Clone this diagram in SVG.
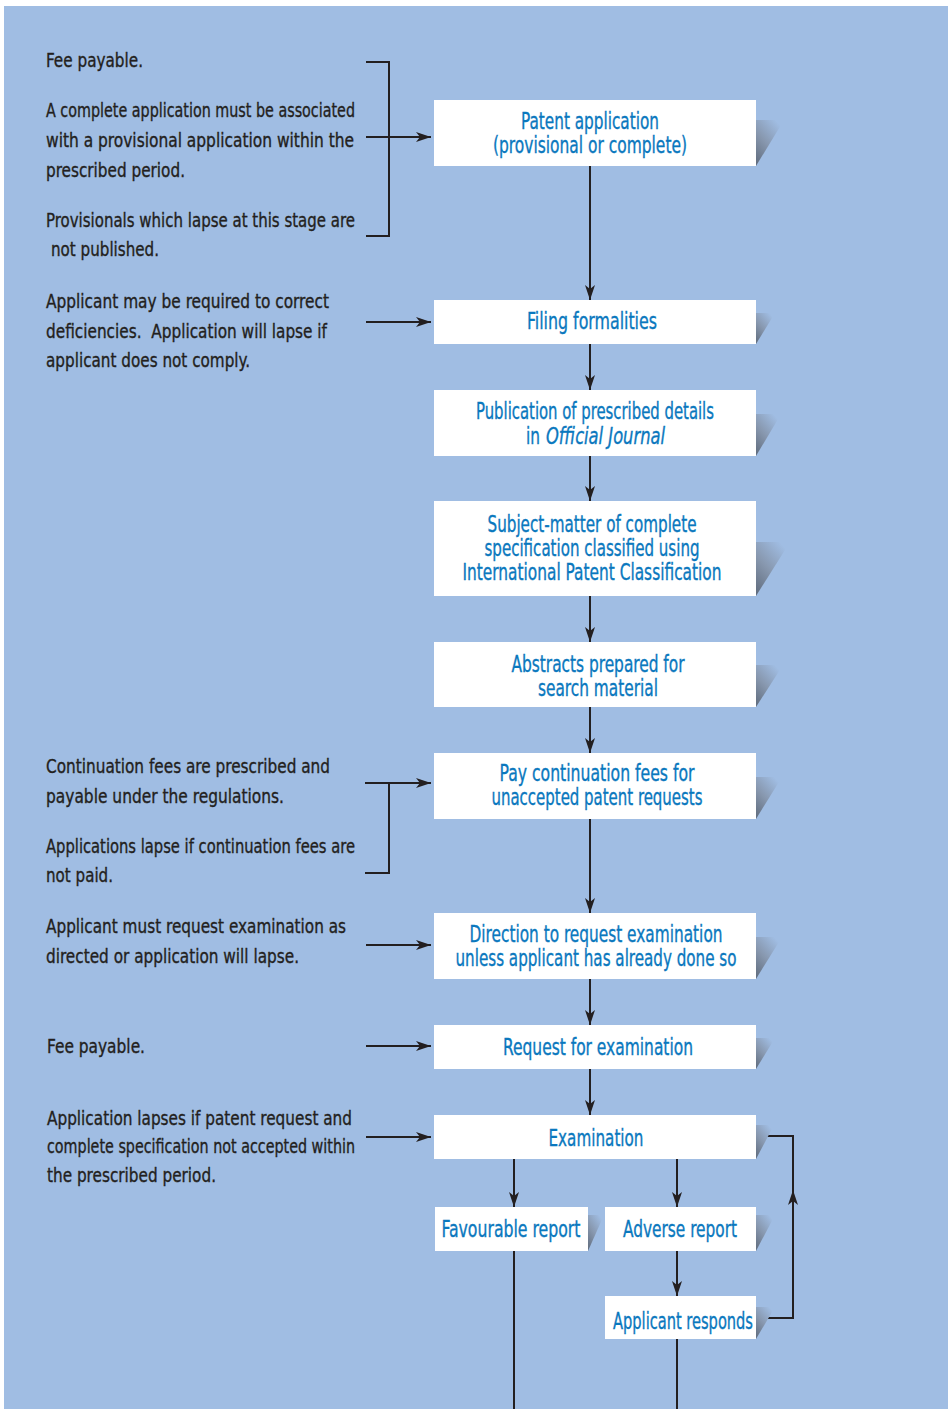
<svg xmlns="http://www.w3.org/2000/svg" width="948" height="1409" viewBox="0 0 948 1409">
<defs>
<style>
.lt{font-family:"Liberation Sans Narrow","DejaVu Sans Condensed","Liberation Sans",sans-serif;font-size:20px;fill:#231F20;stroke:#231F20;stroke-width:0.35}
.bt{font-family:"Liberation Sans Narrow","DejaVu Sans Condensed","Liberation Sans",sans-serif;font-size:23px;fill:#0A78BE;stroke:#0A78BE;stroke-width:0.35;text-anchor:middle}
.bs{text-anchor:start}
.box{fill:#FFFFFF}
.sh{fill:url(#shg)}
.ln{fill:none;stroke:#231F20;stroke-width:2}
.ar{marker-end:url(#ah)}
</style>
<linearGradient id="shg" x1="0" y1="1" x2="0.7" y2="0">
<stop offset="0" stop-color="#5E6A7B"/>
<stop offset="0.5" stop-color="#8797AE"/>
<stop offset="1" stop-color="#A0BDE3"/>
</linearGradient>
<marker id="ah" markerUnits="userSpaceOnUse" markerWidth="15" markerHeight="10" viewBox="0 0 15 10" refX="15" refY="5" orient="auto">
<path d="M0,0 L15,5 L0,10 L4,5 z" fill="#231F20"/>
</marker>
</defs>
<rect x="0" y="0" width="948" height="1409" fill="#FFFFFF"/>
<rect x="4" y="6" width="944" height="1403" fill="#A0BDE3"/>

<g id="notes">
<text class="lt" x="46" y="67" textLength="97" lengthAdjust="spacingAndGlyphs">Fee payable.</text>
<text class="lt" x="46" y="117" textLength="309" lengthAdjust="spacingAndGlyphs">A complete application must be associated</text>
<text class="lt" x="46" y="147" textLength="308" lengthAdjust="spacingAndGlyphs">with a provisional application within the</text>
<text class="lt" x="46" y="177" textLength="139" lengthAdjust="spacingAndGlyphs">prescribed period.</text>
<text class="lt" x="46" y="227" textLength="309" lengthAdjust="spacingAndGlyphs">Provisionals which lapse at this stage are</text>
<text class="lt" x="51" y="256" textLength="108" lengthAdjust="spacingAndGlyphs">not published.</text>
<text class="lt" x="46" y="308" textLength="283" lengthAdjust="spacingAndGlyphs">Applicant may be required to correct</text>
<text class="lt" x="46" y="338" textLength="281" lengthAdjust="spacingAndGlyphs" xml:space="preserve">deficiencies.  Application will lapse if</text>
<text class="lt" x="46" y="367" textLength="204" lengthAdjust="spacingAndGlyphs">applicant does not comply.</text>
<text class="lt" x="46" y="773" textLength="284" lengthAdjust="spacingAndGlyphs">Continuation fees are prescribed and</text>
<text class="lt" x="46" y="803" textLength="238" lengthAdjust="spacingAndGlyphs">payable under the regulations.</text>
<text class="lt" x="46" y="853" textLength="309" lengthAdjust="spacingAndGlyphs">Applications lapse if continuation fees are</text>
<text class="lt" x="46" y="882" textLength="67" lengthAdjust="spacingAndGlyphs">not paid.</text>
<text class="lt" x="46" y="933" textLength="300" lengthAdjust="spacingAndGlyphs">Applicant must request examination as</text>
<text class="lt" x="46" y="963" textLength="253" lengthAdjust="spacingAndGlyphs">directed or application will lapse.</text>
<text class="lt" x="47" y="1053" textLength="98" lengthAdjust="spacingAndGlyphs">Fee payable.</text>
<text class="lt" x="47" y="1125" textLength="305" lengthAdjust="spacingAndGlyphs">Application lapses if patent request and</text>
<text class="lt" x="47" y="1153" textLength="308" lengthAdjust="spacingAndGlyphs">complete specification not accepted within</text>
<text class="lt" x="47" y="1182" textLength="169" lengthAdjust="spacingAndGlyphs">the prescribed period.</text>
</g>

<g id="connectors">
<path class="ln" d="M366,62 H389 V236 H366"/>
<path class="ln ar" d="M366,137 H431"/>
<path class="ln ar" d="M366,322 H431"/>
<path class="ln ar" d="M365,783 H431"/>
<path class="ln" d="M389,783 V873 H365"/>
<path class="ln ar" d="M366,945 H431"/>
<path class="ln ar" d="M366,1046 H431"/>
<path class="ln ar" d="M366,1137 H431"/>
<path class="ln ar" d="M590,166 V300"/>
<path class="ln ar" d="M590,344 V390"/>
<path class="ln ar" d="M590,456 V501"/>
<path class="ln ar" d="M590,596 V642"/>
<path class="ln ar" d="M590,707 V753"/>
<path class="ln ar" d="M590,819 V913"/>
<path class="ln ar" d="M590,979 V1025"/>
<path class="ln ar" d="M590,1069 V1115"/>
<path class="ln ar" d="M514,1159 V1207"/>
<path class="ln ar" d="M677,1159 V1207"/>
<path class="ln ar" d="M677,1251 V1296"/>
<path class="ln ar" d="M757,1318 H793 V1190"/>
<path class="ln" d="M793,1194 V1136 H757"/>
<path class="ln" d="M514,1251 V1409"/>
<path class="ln" d="M677,1339 V1409"/>
</g>

<g id="n1">
<polygon class="sh" points="756,120 784,120 756,166"/>
<rect class="box" x="434" y="100" width="322" height="66"/>
<text class="bt" x="590" y="129" textLength="138" lengthAdjust="spacingAndGlyphs">Patent application</text>
<text class="bt" x="590" y="153" textLength="194" lengthAdjust="spacingAndGlyphs">(provisional or complete)</text>
</g>
<g id="n2">
<polygon class="sh" points="756,313 775,313 756,344"/>
<rect class="box" x="434" y="300" width="322" height="44"/>
<text class="bt" x="592" y="329" textLength="130" lengthAdjust="spacingAndGlyphs">Filing formalities</text>
</g>
<g id="n3">
<polygon class="sh" points="756,414 781,414 756,456"/>
<rect class="box" x="434" y="390" width="322" height="66"/>
<text class="bt" x="595" y="419" textLength="238" lengthAdjust="spacingAndGlyphs">Publication of prescribed details</text>
<text class="bt bs" x="526" y="444" textLength="14" lengthAdjust="spacingAndGlyphs">in</text>
<text class="bt bs" x="546" y="444" textLength="119" lengthAdjust="spacingAndGlyphs" font-style="italic">Official Journal</text>
</g>
<g id="n4">
<polygon class="sh" points="756,542 790,542 756,596"/>
<rect class="box" x="434" y="501" width="322" height="95"/>
<text class="bt" x="592" y="532" textLength="209" lengthAdjust="spacingAndGlyphs">Subject-matter of complete</text>
<text class="bt" x="592" y="556" textLength="215" lengthAdjust="spacingAndGlyphs">specification classified using</text>
<text class="bt" x="592" y="580" textLength="259" lengthAdjust="spacingAndGlyphs">International Patent Classification</text>
</g>
<g id="n5">
<polygon class="sh" points="756,665 783,665 756,707"/>
<rect class="box" x="434" y="642" width="322" height="65"/>
<text class="bt" x="598" y="672" textLength="173" lengthAdjust="spacingAndGlyphs">Abstracts prepared for</text>
<text class="bt" x="598" y="696" textLength="120" lengthAdjust="spacingAndGlyphs">search material</text>
</g>
<g id="n6">
<polygon class="sh" points="756,777 782,777 756,819"/>
<rect class="box" x="434" y="753" width="322" height="66"/>
<text class="bt" x="597" y="781" textLength="195" lengthAdjust="spacingAndGlyphs">Pay continuation fees for</text>
<text class="bt" x="597" y="805" textLength="211" lengthAdjust="spacingAndGlyphs">unaccepted patent requests</text>
</g>
<g id="n7">
<polygon class="sh" points="756,937 782,937 756,979"/>
<rect class="box" x="434" y="913" width="322" height="66"/>
<text class="bt" x="596" y="942" textLength="253" lengthAdjust="spacingAndGlyphs">Direction to request examination</text>
<text class="bt" x="596" y="966" textLength="281" lengthAdjust="spacingAndGlyphs">unless applicant has already done so</text>
</g>
<g id="n8">
<polygon class="sh" points="756,1038 775,1038 756,1069"/>
<rect class="box" x="434" y="1025" width="322" height="44"/>
<text class="bt" x="598" y="1055" textLength="190" lengthAdjust="spacingAndGlyphs">Request for examination</text>
</g>
<g id="n9">
<polygon class="sh" points="756,1125 774,1125 756,1159"/>
<rect class="box" x="434" y="1115" width="322" height="44"/>
<text class="bt" x="596" y="1146" textLength="95" lengthAdjust="spacingAndGlyphs">Examination</text>
</g>
<g id="n10">
<polygon class="sh" points="588,1215 604,1215 588,1251"/>
<rect class="box" x="435" y="1207" width="153" height="44"/>
<text class="bt" x="511" y="1237" textLength="139" lengthAdjust="spacingAndGlyphs">Favourable report</text>
</g>
<g id="n11">
<polygon class="sh" points="756,1215 775,1215 756,1251"/>
<rect class="box" x="605" y="1207" width="151" height="44"/>
<text class="bt" x="680" y="1237" textLength="114" lengthAdjust="spacingAndGlyphs">Adverse report</text>
</g>
<g id="n12">
<polygon class="sh" points="756,1307 775,1307 756,1339"/>
<rect class="box" x="605" y="1296" width="151" height="43"/>
<text class="bt" x="683" y="1329" textLength="140" lengthAdjust="spacingAndGlyphs">Applicant responds</text>
</g>
</svg>
